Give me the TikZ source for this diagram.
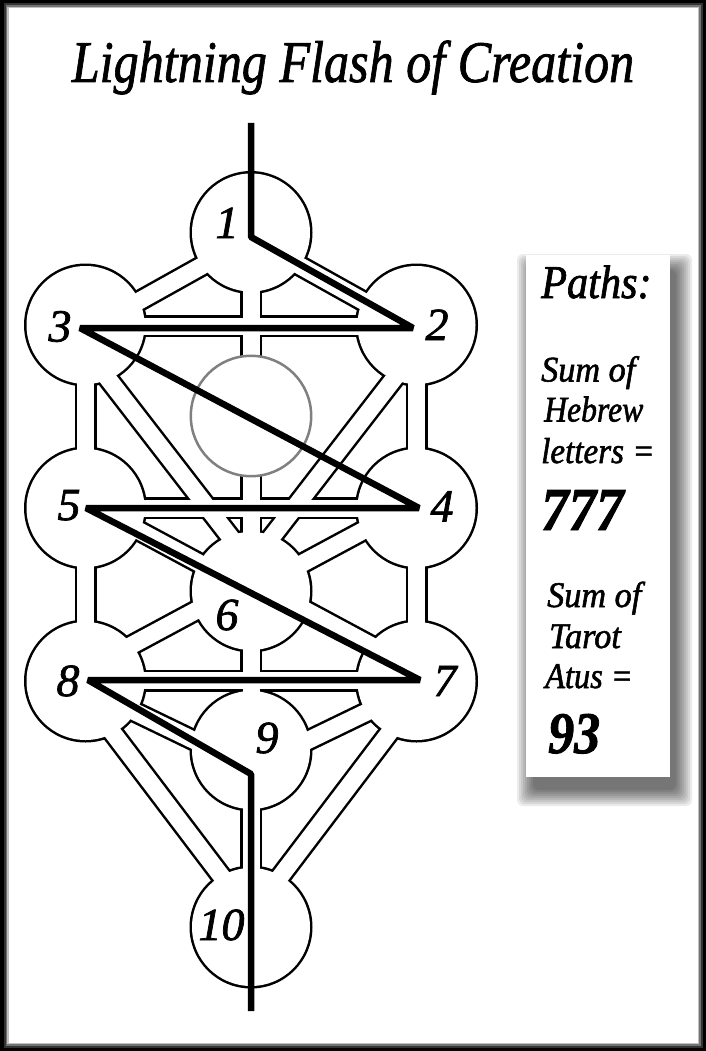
\documentclass[tikz,border=0pt]{standalone}
\usepackage{fontspec}
\setmainfont{Liberation Serif}
\newfontfamily\heavyserif[FakeBold=1.6]{Liberation Serif}
\newfontfamily\titleserif[FakeBold=1.3]{Liberation Serif}
\usepackage{graphicx}
\newcommand\pnlsq[2]{\scalebox{#1}[1]{#2}}
\newcommand\treenet[1]{%
  \draw[#1] (s1) -- (s10);
  \draw[#1] (a12) -- (b12);
  \draw[#1] (a12) -- (b13);
  \draw[#1] (a23) -- (b23);
  \draw[#1] (s2) -- (s4);
  \draw[#1] (s3) -- (s5);
  \draw[#1] (a36) -- (b36);
  \draw[#1] (a26) -- (b26);
  \draw[#1] (s5) -- (s4);
  \draw[#1] (a56) -- (s6);
  \draw[#1] (a46) -- (s6);
  \draw[#1] (s4) -- (s7);
  \draw[#1] (s5) -- (s8);
  \draw[#1] (a67) -- (b67);
  \draw[#1] (a67) -- (b68);
  \draw[#1] (a78) -- (b78);
  \draw[#1] (a79) -- (b9);
  \draw[#1] (a89) -- (b9);
  \draw[#1] (a710) -- (b710);
  \draw[#1] (a810) -- (b810);
}
\begin{document}
\begin{tikzpicture}[x=1pt,y=-1pt,
  pathblack/.style={line width=22pt,draw=black,line cap=butt},
  pathwhite/.style={line width=17pt,draw=white,line cap=butt},
  bolt/.style={line width=6.5pt,draw=black,line join=bevel,line cap=butt},
  num/.style={font=\fontsize{46}{46}\heavyserif\itshape,anchor=base,inner sep=0pt},
  ptxt/.style={font=\fontsize{36}{40}\heavyserif\itshape,anchor=base west,inner sep=0pt},
  pbig/.style={font=\fontsize{61}{61}\heavyserif\bfseries\itshape,anchor=base west,inner sep=0pt},
]
\useasboundingbox (0,0) rectangle (706,1051);
% frame
\fill[black] (0,0) rectangle (706,1051);
\fill[black!80] (3.5,3.5) rectangle (702.5,1047.5);
\fill[black!55] (5.5,5.5) rectangle (700.5,1045.5);
\fill[black!25] (7,7) rectangle (699,1044);
\fill[white] (8.5,8.5) rectangle (697.5,1042.5);
% panel shadow and panel
\foreach \e in {16,14,...,0}
  \fill[black,opacity=0.08,rounded corners=6pt] ({533-\e},{270-\e}) rectangle ({676+\e},{790+\e});
\fill[white] (526,255) rectangle (670,777);
% title
\node[font=\fontsize{59}{59}\titleserif\itshape,anchor=base,inner sep=0pt] (title) at (353,82) {\pnlsq{0.85}{Lightning Flash of Creation}};
% sephiroth centres
\coordinate (s1) at (251,232.5);
\coordinate (s2) at (416.5,325);
\coordinate (s3) at (85.5,325);
\coordinate (s4) at (416.5,508);
\coordinate (s5) at (85.5,508);
\coordinate (s6) at (251,591);
\coordinate (s7) at (416.5,681);
\coordinate (s8) at (85.5,681);
\coordinate (s9) at (251,750);
\coordinate (s10) at (251,927);
\coordinate (dt) at (251,416);
% path end points
\coordinate (a12) at (251,238.5); \coordinate (b12) at (416.5,331); \coordinate (b13) at (85.5,331);
\coordinate (a23) at (85.5,326); \coordinate (b23) at (416.5,326);
\coordinate (a36) at (66.5,325); \coordinate (b36) at (272,591);
\coordinate (a26) at (435.5,325); \coordinate (b26) at (230,591);
\coordinate (a56) at (85.5,502); \coordinate (a46) at (416.5,502);
\coordinate (a67) at (251,581); \coordinate (b67) at (416.5,670); \coordinate (b68) at (85.5,670);
\coordinate (a78) at (85.5,680.5); \coordinate (b78) at (416.5,680.5);
\coordinate (a79) at (416.5,688); \coordinate (a89) at (85.5,688); \coordinate (b9) at (251,768);
\coordinate (a710) at (428.5,681); \coordinate (b710) at (242,927);
\coordinate (a810) at (73.5,681); \coordinate (b810) at (260,927);
% black layer
\foreach \s in {s1,s2,s3,s4,s5,s6,s7,s8,s9,s10}
  \fill[black] (\s) circle[radius=61.5pt];
\treenet{pathblack}
% white layer
\foreach \s in {s1,s2,s3,s4,s5,s6,s7,s8,s9,s10}
  \fill[white] (\s) circle[radius=59pt];
\treenet{pathwhite}
% Daath
\fill[white] (dt) circle[radius=60.2pt];
\draw[line width=2.5pt,draw=black!50] (dt) circle[radius=60.2pt];
% lightning flash
\coordinate (L0) at (251,123);
\coordinate (L1) at (251,237);
\coordinate (L2) at (413,328);
\coordinate (L3) at (80,328);
\coordinate (L4) at (419,508);
\coordinate (L5) at (86,508);
\coordinate (L6) at (420,680);
\coordinate (L7) at (88,680);
\coordinate (L8) at (251,774);
\coordinate (L9) at (251,1011);
\draw[bolt] (L0) -- (L1) -- (L2) -- (L3) -- (L4) -- (L5) -- (L6) -- (L7) -- (L8) -- (L9);
% numbers
\node[num] (n1) at (227,238) {1};
\node[num] (n2) at (437,340) {2};
\node[num] (n3) at (60,341.5) {3};
\node[num] (n4) at (442,521.5) {4};
\node[num] (n5) at (69,520) {5};
\node[num] (n6) at (227,630) {6};
\node[num] (n7) at (445,696) {7};
\node[num] (n8) at (68,696) {8};
\node[num] (n9) at (267,753) {9};
\node[num] (n10) at (221.5,940) {10};
% panel text
\node[font=\fontsize{47}{47}\heavyserif\itshape,anchor=base west,inner sep=0pt] (paths) at (541,298) {\pnlsq{0.9}{Paths:}};
\node[ptxt] (t1) at (541,381.5) {\pnlsq{0.95}{Sum of}};
\node[ptxt] (t2) at (544,421.5) {\pnlsq{0.88}{Hebrew}};
\node[ptxt] (t3) at (541,463) {\pnlsq{0.92}{letters =}};
\node[pbig] (v1) at (541,530) {\pnlsq{0.9}{777}};
\node[ptxt] (t4) at (547,607) {\pnlsq{0.95}{Sum of}};
\node[ptxt] (t5) at (549,648) {\pnlsq{0.95}{Tarot}};
\node[ptxt] (t6) at (545,688) {\pnlsq{0.9}{Atus =}};
\node[font=\fontsize{59}{59}\heavyserif\bfseries\itshape,anchor=base west,inner sep=0pt] (v2) at (548,753) {\pnlsq{0.88}{93}};
\end{tikzpicture}
\end{document}
